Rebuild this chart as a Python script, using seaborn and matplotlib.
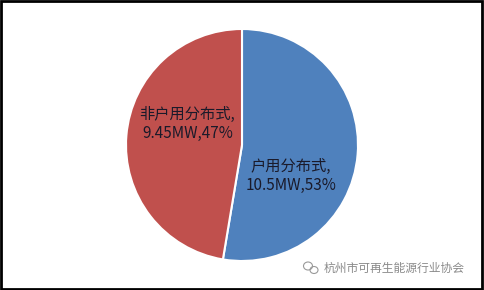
import matplotlib
matplotlib.use("Agg")
import matplotlib.pyplot as plt
from matplotlib.patches import Rectangle, Ellipse
import seaborn as sns

categories = ["户用分布式", "非户用分布式"]
values_mw = [10.5, 9.45]
value_labels = ["10.5MW", "9.45MW"]
percents = ["53%", "47%"]
watermark = "杭州市可再生能源行业协会"

sns.set_theme(style="white")
plt.rcParams['font.family'] = ['Noto Sans CJK SC', 'DejaVu Sans']

colors = ["#4F81BD", "#C0504D"]

W, H = 484, 290
fig = plt.figure(figsize=(W / 100, H / 100), dpi=100)
ax = fig.add_axes([0, 0, 1, 1])
R = 112.5
cx, cy = 240.5, 143.5
ax.set_xlim(-cx / R, (W - cx) / R)
ax.set_ylim(-(H - cy) / R, cy / R)
ax.set_aspect("equal")
ax.axis("off")

ax.pie(values_mw, colors=colors, startangle=90, counterclock=False,
       radius=1.0, wedgeprops=dict(edgecolor="white", linewidth=1.5))

label_pos = [(0.42, -0.27), (-0.47, 0.18)]
for cat, vl, pc, (x, y) in zip(categories, value_labels, percents, label_pos):
    ax.text(x, y, f"{cat},\n{vl},{pc}", ha="center", va="center",
            fontsize=11, color="#1a1a2a", linespacing=1.15)

fig.text(394 / W, 1 - 268 / H, watermark, ha="center", va="center",
         fontsize=8.5, color="#8a8a8a")

# small logo icon beside the watermark
for (ex, ey, ew, eh) in [(308, 266, 9, 8), (314, 270, 8, 7)]:
    fig.add_artist(Ellipse((ex / W, 1 - ey / H), ew / W, eh / H,
                           transform=fig.transFigure, fill=False,
                           edgecolor="#9a9a9a", linewidth=0.8))

fig.add_artist(Rectangle((0.002, 0.003), 0.994, 0.992, transform=fig.transFigure,
                         fill=False, edgecolor="black", linewidth=2))

fig.savefig("out.png", dpi=100)
